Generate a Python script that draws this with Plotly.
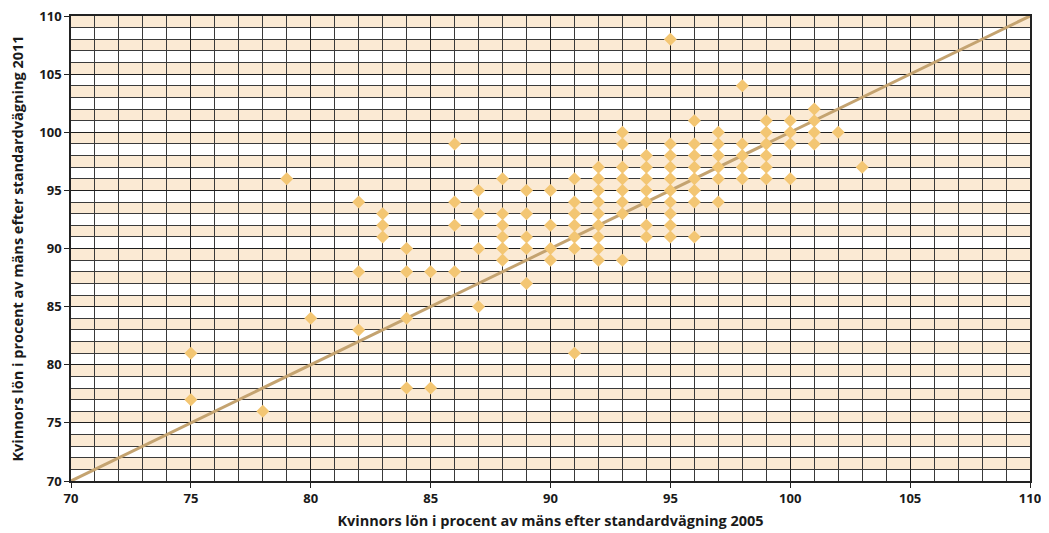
import plotly.graph_objects as go

# Data: (2005 value, 2011 value) per point
x_2005 = [75, 75, 78, 79, 80,
          82, 82, 82,
          83, 83, 83,
          84, 84, 84, 84,
          85, 85,
          86, 86, 86, 86,
          87, 87, 87, 87,
          88, 88, 88, 88, 88, 88,
          89, 89, 89, 89, 89,
          90, 90, 90, 90,
          91, 91, 91, 91, 91, 91, 91,
          92, 92, 92, 92, 92, 92, 92, 92, 92,
          93, 93, 93, 93, 93, 93, 93, 93,
          94, 94, 94, 94, 94, 94, 94,
          95, 95, 95, 95, 95, 95, 95, 95, 95, 95,
          96, 96, 96, 96, 96, 96, 96, 96,
          97, 97, 97, 97, 97, 97,
          98, 98, 98, 98, 98,
          99, 99, 99, 99, 99, 99,
          100, 100, 100, 100,
          101, 101, 101, 101,
          102, 103]
y_2011 = [81, 77, 76, 96, 84,
          94, 88, 83,
          93, 92, 91,
          90, 88, 84, 78,
          88, 78,
          99, 94, 92, 88,
          95, 93, 90, 85,
          96, 93, 92, 91, 90, 89,
          95, 93, 91, 90, 87,
          95, 92, 90, 89,
          96, 94, 93, 92, 91, 90, 81,
          97, 96, 95, 94, 93, 92, 91, 90, 89,
          100, 99, 97, 96, 95, 94, 93, 89,
          98, 97, 96, 95, 94, 92, 91,
          108, 99, 98, 97, 96, 95, 94, 93, 92, 91,
          101, 99, 98, 97, 96, 95, 94, 91,
          100, 99, 98, 97, 96, 94,
          104, 99, 98, 97, 96,
          101, 100, 99, 98, 97, 96,
          101, 100, 99, 96,
          102, 101, 100, 99,
          100, 97]

line_x = [70, 110]
line_y = [70, 110]

tick_vals = [70, 75, 80, 85, 90, 95, 100, 105, 110]
x_title = "Kvinnors lön i procent av mäns efter standardvägning 2005"
y_title = "Kvinnors lön i procent av mäns efter standardvägning 2011"

font_family = "Open Sans"
grid_col = "#1e1e1e"
band_col = "#FBEAD4"

fig = go.Figure()

fig.add_trace(go.Scatter(
    x=line_x, y=line_y, mode="lines",
    line=dict(color="#C4A370", width=3), hoverinfo="skip", showlegend=False))

fig.add_trace(go.Scatter(
    x=x_2005, y=y_2011, mode="markers",
    marker=dict(symbol="diamond", size=10, color="#F3C673", line=dict(width=0)),
    showlegend=False))

shapes = []
for k in range(72, 111, 2):
    shapes.append(dict(type="rect", xref="x", yref="y", x0=70, x1=110, y0=k - 1, y1=k,
                       fillcolor=band_col, line=dict(width=0), layer="below"))

axis_common = dict(
    range=[70, 110], tickvals=tick_vals, showgrid=True, gridcolor=grid_col, gridwidth=1,
    minor=dict(dtick=1, showgrid=True, gridcolor="#3a3a3a", gridwidth=1, tick0=70),
    showline=True, linecolor="#222222", linewidth=1.5, mirror=True,
    ticks="outside", ticklen=5, tickcolor="#222222", zeroline=False, automargin=False,
    ticklabeloverflow="allow",
    tickfont=dict(family=font_family, size=13, color="#1a1a1a", weight="bold"),
)

# page body has an 8px default margin, so the figure is sized/offset to compensate
fig.update_layout(
    width=1041, height=525,
    margin=dict(l=63, r=19, t=8, b=52),
    plot_bgcolor="white", paper_bgcolor="white",
    shapes=shapes,
    xaxis=dict(**axis_common,
               title=dict(text=x_title, standoff=10,
                          font=dict(family=font_family, size=14.5, color="#1a1a1a", weight="bold"))),
    yaxis=dict(**axis_common,
               title=dict(text=y_title, standoff=14,
                          font=dict(family=font_family, size=14.5, color="#1a1a1a", weight="bold"))),
)

fig.write_html("out.html")
